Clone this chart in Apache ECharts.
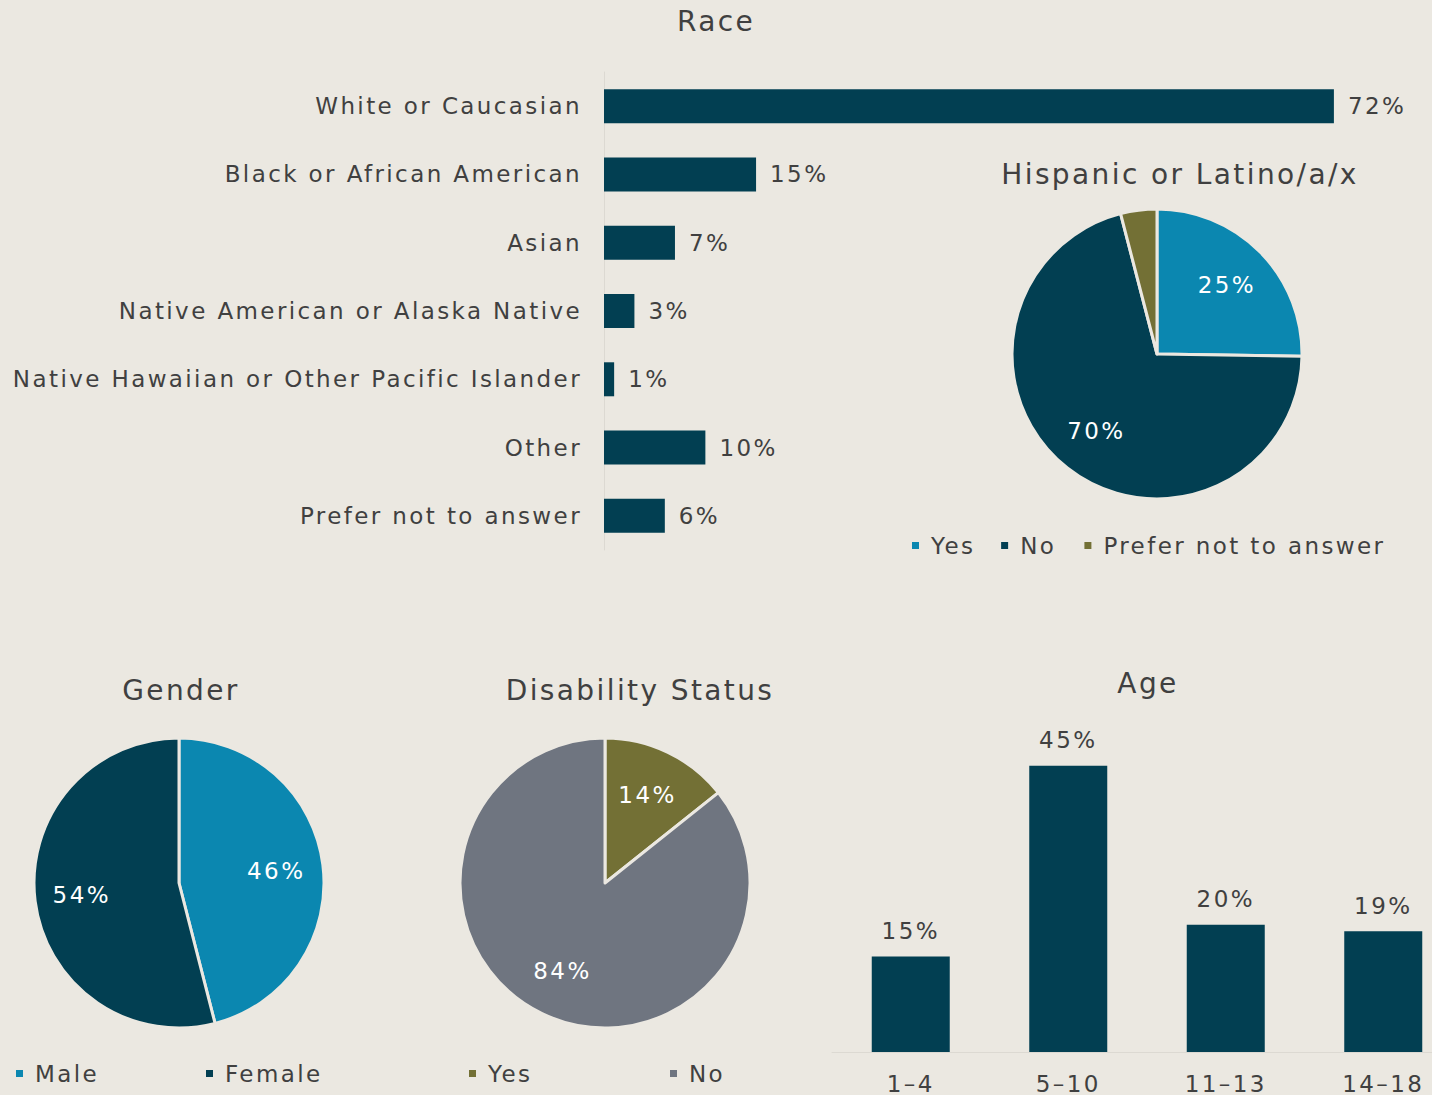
<!DOCTYPE html>
<html>
<head>
<meta charset="utf-8">
<script src="https://cdn.jsdelivr.net/npm/echarts@6/dist/echarts.min.js"></script>
<style>
html, body { margin: 0; padding: 0; width: 1432px; height: 1095px; overflow: hidden; background: #ebe8e1; }
.box { position: absolute; }
/* wide tracking like the original typeface */
.box text { letter-spacing: 2.4px; }
</style>
</head>
<body>
<div id="race" class="box" style="left:0;top:0;width:1432px;height:570px"></div>
<div id="hispanic" class="box" style="left:880px;top:150px;width:600px;height:420px"></div>
<div id="gender" class="box" style="left:0;top:650px;width:362px;height:445px"></div>
<div id="disability" class="box" style="left:400px;top:650px;width:480px;height:445px"></div>
<div id="age" class="box" style="left:830px;top:650px;width:636px;height:445px"></div>
<script>
// data
const raceCats = ['White or Caucasian', 'Black or African American', 'Asian', 'Native American or Alaska Native', 'Native Hawaiian or Other Pacific Islander', 'Other', 'Prefer not to answer'];
const raceVals = [72, 15, 7, 3, 1, 10, 6];
const hispNames = ['Yes', 'No', 'Prefer not to answer'];
const hispVals = [25, 70, 4];
const genderNames = ['Male', 'Female'];
const genderVals = [46, 54];
const disabNames = ['Yes', 'No'];
const disabVals = [14, 84];
const ageCats = ['1–4', '5–10', '11–13', '14–18'];
const ageVals = [15, 45, 20, 19];

const FONT = "'DejaVu Sans', sans-serif";
const TEXT = '#404040';
const BG = '#ebe8e1';
const DARK = '#023f52';
const BLUE = '#0b87b0';
const OLIVE = '#737035';
const GRAY = '#6f7580';

const charts = [];
function mk(id, option) {
  const c = echarts.init(document.getElementById(id), null, { renderer: 'svg' });
  c.setOption(option);
  charts.push(c);
}

function titleOpt(text, top) {
  return {
    text: text,
    left: 'center',
    top: top,
    padding: 0,
    textStyle: { color: TEXT, fontSize: 28, fontWeight: 'normal', fontFamily: FONT }
  };
}

function legendOpt(names, left, top, gap) {
  return {
    data: names,
    left: left,
    top: top,
    padding: 0,
    icon: 'rect',
    itemWidth: 9,
    itemHeight: 9,
    itemGap: gap || 10,
    selectedMode: false,
    textStyle: { color: TEXT, fontSize: 23, fontFamily: FONT, padding: [0, 0, 0, 6] }
  };
}

// pie: visible slices + transparent wider copy that carries the labels
function pieSeries(names, vals, colors, center) {
  const items = names.map((n, i) => ({ name: n, value: vals[i], itemStyle: { color: colors[i] } }));
  return [
    {
      type: 'pie',
      center: center,
      radius: [0, 145],
      data: items,
      label: { show: false },
      labelLine: { show: false },
      itemStyle: { borderColor: BG, borderWidth: 3 },
      emphasis: { disabled: true }
    },
    {
      type: 'pie',
      center: center,
      radius: [0, 190],
      silent: true,
      minShowLabelAngle: 20,
      data: names.map((n, i) => ({ name: n, value: vals[i] })),
      itemStyle: { color: 'rgba(0,0,0,0)', borderWidth: 0 },
      label: {
        show: true,
        position: 'inside',
        formatter: '{c}%',
        color: '#ffffff',
        fontSize: 23,
        fontFamily: FONT
      },
      labelLine: { show: false },
      emphasis: { disabled: true }
    }
  ];
}

// Race
mk('race', {
  animation: false,
  textStyle: { fontFamily: FONT },
  title: titleOpt('Race', 7),
  grid: { left: 604, right: 17, top: 72, bottom: 20 },
  xAxis: { type: 'value', min: 0, max: 80, show: false },
  yAxis: {
    type: 'category',
    data: raceCats,
    inverse: true,
    axisLine: { show: true, lineStyle: { color: '#dcd9d2', width: 1 } },
    axisTick: { show: false },
    axisLabel: { color: TEXT, fontSize: 23, fontFamily: FONT, margin: 22 }
  },
  series: [{
    type: 'bar',
    data: raceVals,
    barWidth: 34,
    itemStyle: { color: DARK },
    label: { show: true, position: 'right', distance: 14, formatter: '{c}%', color: TEXT, fontSize: 23, fontFamily: FONT }
  }]
});

// Hispanic or Latino/a/x
mk('hispanic', {
  animation: false,
  textStyle: { fontFamily: FONT },
  title: titleOpt('Hispanic or Latino/a/x', 10),
  legend: legendOpt(hispNames, 30, 384, 31),
  series: pieSeries(hispNames, hispVals, [BLUE, DARK, OLIVE], [277, 204])
});

// Gender
mk('gender', {
  animation: false,
  textStyle: { fontFamily: FONT },
  title: titleOpt('Gender', 26),
  legend: [legendOpt(['Male'], 14, 412), legendOpt(['Female'], 204, 412)],
  series: pieSeries(genderNames, genderVals, [BLUE, DARK], [179, 233])
});

// Disability Status
mk('disability', {
  animation: false,
  textStyle: { fontFamily: FONT },
  title: titleOpt('Disability Status', 26),
  legend: [legendOpt(['Yes'], 67, 412), legendOpt(['No'], 268, 412)],
  series: pieSeries(disabNames, disabVals, [OLIVE, GRAY], [205, 233])
});

// Age
mk('age', {
  animation: false,
  textStyle: { fontFamily: FONT },
  title: titleOpt('Age', 19),
  grid: { left: 2, right: 4, top: 84, bottom: 43 },
  xAxis: {
    type: 'category',
    data: ageCats,
    axisLine: { show: true, lineStyle: { color: '#dcd9d2', width: 1 } },
    axisTick: { show: false },
    axisLabel: { color: TEXT, fontSize: 23, fontFamily: FONT, margin: 20 }
  },
  yAxis: { type: 'value', min: 0, max: 50, show: false },
  series: [{
    type: 'bar',
    data: ageVals,
    barWidth: 78,
    itemStyle: { color: DARK },
    label: { show: true, position: 'top', distance: 14, formatter: '{c}%', color: TEXT, fontSize: 23, fontFamily: FONT }
  }]
});

window.addEventListener('resize', () => {
  charts.forEach(c => c.resize());
});
</script>
</body>
</html>
